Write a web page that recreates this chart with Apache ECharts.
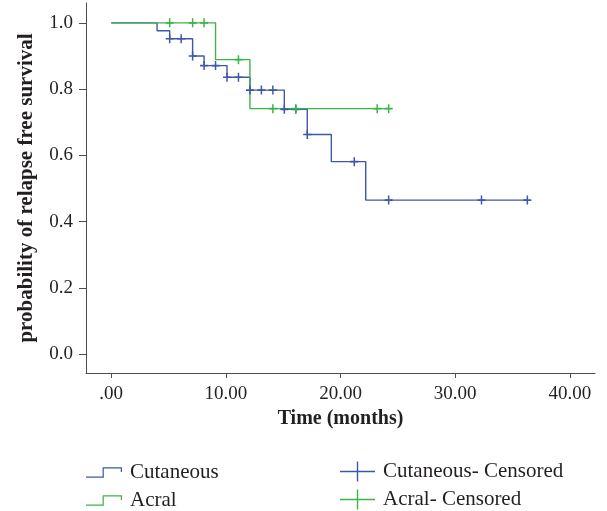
<!DOCTYPE html>
<html>
<head>
<meta charset="utf-8">
<script src="https://cdn.jsdelivr.net/npm/echarts@6/dist/echarts.min.js"></script>
<style>html,body{margin:0;padding:0;background:#fff}#c{width:607px;height:511px}</style>
</head>
<body>
<div id="c"></div>
<script>
// Cutaneous step curve (time in months, survival probability)
var cutTimes = [0, 4.0, 5.1, 7.1, 8.1, 10.1, 12.1, 15.1, 17.1, 19.2, 22.2, 36.3];
var cutSurv  = [1, 0.976, 0.952, 0.900, 0.871, 0.836, 0.797, 0.739, 0.663, 0.581, 0.465, 0.465];
// Cutaneous censored marks
var cutCensTimes = [5.1, 6.1, 7.1, 8.1, 9.1, 10.1, 11.1, 12.1, 13.1, 14.1, 15.1, 16.1, 17.1, 21.2, 24.2, 32.3, 36.3];
var cutCensSurv  = [0.952, 0.952, 0.900, 0.871, 0.871, 0.836, 0.836, 0.797, 0.797, 0.797, 0.739, 0.739, 0.663, 0.581, 0.465, 0.465, 0.465];
// Acral step curve
var acrTimes = [0, 9.1, 12.1, 24.2];
var acrSurv  = [1, 0.889, 0.741, 0.741];
// Acral censored marks
var acrCensTimes = [5.1, 7.1, 8.1, 11.1, 14.1, 16.1, 23.2, 24.2];
var acrCensSurv  = [1, 1, 1, 0.889, 0.741, 0.741, 0.741, 0.741];
// Axis ticks
var xTicks = [0, 10, 20, 30, 40];
var xTickLabels = ['.00', '10.00', '20.00', '30.00', '40.00'];
var yTicks = [0, 0.2, 0.4, 0.6, 0.8, 1.0];
var yTickLabels = ['0.0', '0.2', '0.4', '0.6', '0.8', '1.0'];

var BLUE = '#3d58a8';
var GREEN = '#3cb44a';
var TXT = '#231f20';
var FONT = '"Liberation Serif", "Times New Roman", serif';

function zip(a, b) { return a.map(function (v, i) { return [v, b[i]]; }); }

var plusSym = 'path://M0,37 H32.5 V0 H47.5 V37 H80 V53 H47.5 V90 H32.5 V53 H0 Z';
var legendPlus = 'path://M0,9.3 H16.8 V0 H18.2 V9.3 H35 V10.7 H18.2 V20 H16.8 V10.7 H0 Z';
var legendStep = 'path://M0,9.4 H16.4 V0.4 H35.6 V5 H34.4 V1.6 H17.6 V10.6 H0 Z';

function mkLegend(name, icon, color, left, top, w, h) {
  return {
    orient: 'horizontal', left: left, top: top, itemWidth: w, itemHeight: h,
    padding: 0,
    textStyle: {fontFamily: FONT, fontSize: 21, color: TXT, padding: [0, 0, 0, 3]},
    data: [{name: name, icon: icon, itemStyle: {color: color, borderWidth: 0, opacity: 1}}]
  };
}

var chart = echarts.init(document.getElementById('c'), null, {renderer: 'canvas'});
chart.setOption({
  animation: false,
  backgroundColor: '#fff',
  grid: {left: 86, right: 12, top: 3, bottom: 138, containLabel: false},
  xAxis: {
    type: 'value', min: -2.2, max: 42.2,
    name: 'Time (months)', nameLocation: 'middle', nameGap: 21,
    nameTextStyle: {fontFamily: FONT, fontSize: 20, fontWeight: 'bold', color: TXT},
    axisLine: {show: true, onZero: false, lineStyle: {color: '#4d4d4d', width: 1}},
    axisTick: {show: true, length: 5, customValues: xTicks, lineStyle: {color: '#4d4d4d'}},
    axisLabel: {customValues: xTicks, margin: 12, fontFamily: FONT, fontSize: 19, color: TXT,
      formatter: function (v) { var i = xTicks.indexOf(v); return i >= 0 ? xTickLabels[i] : ''; }},
    splitLine: {show: false}
  },
  yAxis: {
    type: 'value', min: -0.057, max: 1.06,
    name: 'probability of relapse free survival', nameLocation: 'middle', nameGap: 49,
    nameTextStyle: {fontFamily: FONT, fontSize: 21, fontWeight: 'bold', color: TXT},
    axisLine: {show: true, onZero: false, lineStyle: {color: '#4d4d4d', width: 1}},
    axisTick: {show: true, length: 7, customValues: yTicks, lineStyle: {color: '#4d4d4d'}},
    axisLabel: {customValues: yTicks, margin: 13, fontFamily: FONT, fontSize: 19, color: TXT,
      formatter: function (v) { for (var i = 0; i < yTicks.length; i++) { if (Math.abs(yTicks[i] - v) < 1e-6) return yTickLabels[i]; } return ''; }},
    splitLine: {show: false}
  },
  legend: [
    mkLegend('Cutaneous', legendStep, BLUE, 86, 462, 36, 11),
    mkLegend('Acral', legendStep, GREEN, 86, 490, 36, 11),
    mkLegend('Cutaneous- Censored', legendPlus, BLUE, 340, 461, 35, 20),
    mkLegend('Acral- Censored', legendPlus, GREEN, 340, 489, 35, 20)
  ],
  series: [{
    name: 'Cutaneous', type: 'line', step: 'end', showSymbol: false, symbol: 'none',
    data: zip(cutTimes, cutSurv), color: BLUE, itemStyle: {color: BLUE},
    lineStyle: {color: BLUE, width: 1.4}, z: 2
  }, {
    name: 'Acral', type: 'line', step: 'end', showSymbol: false, symbol: 'none',
    data: zip(acrTimes, acrSurv), color: GREEN, itemStyle: {color: GREEN},
    lineStyle: {color: GREEN, width: 1.4}, z: 3
  }, {
    name: 'Cutaneous- Censored', type: 'scatter', symbol: plusSym, symbolSize: [8, 9],
    data: zip(cutCensTimes, cutCensSurv), color: BLUE, itemStyle: {color: BLUE, opacity: 1}, z: 4
  }, {
    name: 'Acral- Censored', type: 'scatter', symbol: plusSym, symbolSize: [8, 9],
    data: zip(acrCensTimes, acrCensSurv), color: GREEN, itemStyle: {color: GREEN, opacity: 1}, z: 5
  }]
});
</script>
</body>
</html>
